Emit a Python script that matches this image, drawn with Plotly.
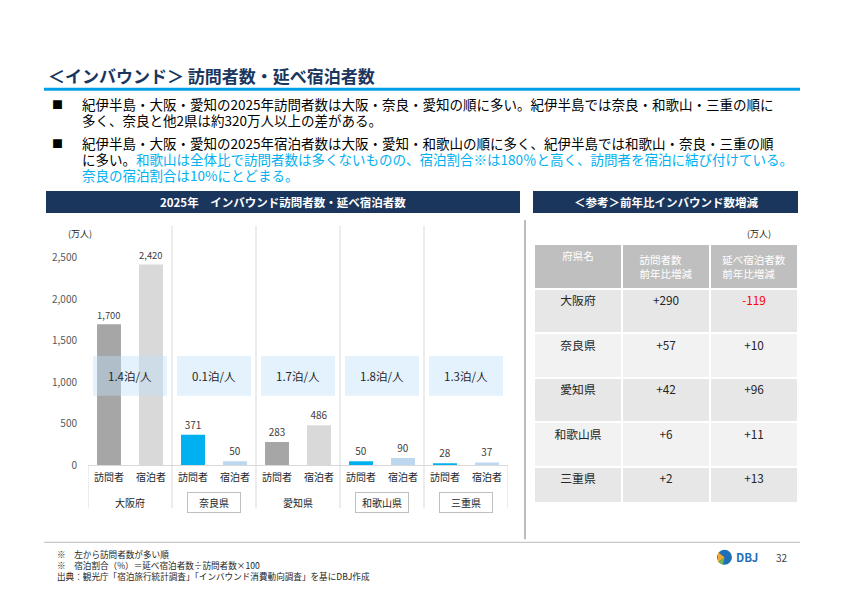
import plotly.graph_objects as go

# chart data (万人)
prefectures = ['大阪府', '奈良県', '愛知県', '和歌山県', '三重県']
kii = [False, True, False, True, True]
visitors = [1700, 371, 283, 50, 28]
stays = [2420, 50, 486, 90, 37]
nights = ['1.4泊/人', '0.1泊/人', '1.7泊/人', '1.8泊/人', '1.3泊/人']
bar_labels = ['訪問者', '宿泊者']
y_ticks = [0, 500, 1000, 1500, 2000, 2500]

# reference table (前年比増減, 万人)
table_prefs = ['大阪府', '奈良県', '愛知県', '和歌山県', '三重県']
visitors_diff = ['+290', '+57', '+42', '+6', '+2']
stays_diff = ['-119', '+10', '+96', '+11', '+13']
table_header = ['府県名', '訪問者数<br>前年比増減', '延べ宿泊者数<br>前年比増減']

W, H = 842, 596
FONT = 'Noto Sans CJK JP'
NAVY = '#1B365D'
CYAN = '#00B0F0'


def px(x):
    return x / W


def py(y):
    # the photographed page comes out slightly squeezed vertically,
    # so undo that when turning a target pixel row into paper coords
    y_page = (y - 6.5) / 0.977
    return (H - y_page) / H


fig = go.Figure()

# bars
n = len(prefectures)
x_vis = [2 * i for i in range(n)]
x_stay = [2 * i + 1 for i in range(n)]
fig.add_trace(go.Bar(
    x=x_vis, y=visitors, width=0.57,
    marker_color=[CYAN if k else '#A6A6A6' for k in kii],
    marker_line_width=0,
    texttemplate='%{y:,}', textposition='outside',
    textfont=dict(size=10, color='#404040', family=FONT),
    cliponaxis=False, showlegend=False, hoverinfo='skip'
))
fig.add_trace(go.Bar(
    x=x_stay, y=stays, width=0.57,
    marker_color=['#BDD7EE' if k else '#D9D9D9' for k in kii],
    marker_line_width=0,
    texttemplate='%{y:,}', textposition='outside',
    textfont=dict(size=10, color='#404040', family=FONT),
    cliponaxis=False, showlegend=False, hoverinfo='skip'
))

# table
row_fill = ['#E7E7E7' if i % 2 == 0 else '#F2F2F2' for i in range(len(table_prefs))]
fig.add_trace(go.Table(
    domain=dict(x=[px(534), px(798)], y=[py(502), py(243)]),
    columnwidth=[1, 1, 1],
    header=dict(
        values=table_header, fill_color='#BFBFBF',
        line=dict(color='white', width=2), height=42,
        align='center', font=dict(family=FONT, size=10.5, color='white')
    ),
    cells=dict(
        values=[table_prefs, visitors_diff, stays_diff],
        fill_color=[row_fill] * 3,
        line=dict(color='white', width=2), height=44.5,
        align='center',
        font=dict(family=FONT, size=11.8, color=[
            ['#262626'] * 5, ['#262626'] * 5,
            ['#FF0000' if v.startswith('-') else '#262626' for v in stays_diff]
        ])
    )
))

shapes = []
annotations = []

# title + rule
annotations.append(dict(
    x=px(46), y=py(74), xref='paper', yref='paper', xanchor='left', yanchor='middle',
    text='<b>＜インバウンド＞ 訪問者数・延べ宿泊者数</b>', showarrow=False,
    font=dict(family=FONT, size=17, color=NAVY)
))
shapes.append(dict(type='line', xref='paper', yref='paper',
                   x0=px(44), x1=px(800), y0=py(88), y1=py(88),
                   line=dict(color='#00A0E9', width=3)))

# bullet lines (y, starts a bullet, text)
blue = '<span style="color:#00B0F0">{}</span>'
lines = [
    (103, True, '紀伊半島・大阪・愛知の2025年訪問者数は大阪・奈良・愛知の順に多い。紀伊半島では奈良・和歌山・三重の順に'),
    (119, False, '多く、奈良と他2県は約320万人以上の差がある。'),
    (142, True, '紀伊半島・大阪・愛知の2025年宿泊者数は大阪・愛知・和歌山の順に多く、紀伊半島では和歌山・奈良・三重の順'),
    (158, False, 'に多い。' + blue.format('和歌山は全体比で訪問者数は多くないものの、宿泊割合※は180％と高く、訪問者を宿泊に結び付けている。')),
    (174, False, blue.format('奈良の宿泊割合は10%にとどまる。')),
]
for y, bullet, txt in lines:
    annotations.append(dict(
        x=px(80), y=py(y), xref='paper', yref='paper', xanchor='left', yanchor='middle',
        text=txt, showarrow=False, font=dict(family=FONT, size=13.5, color='#000000')
    ))
    if bullet:
        annotations.append(dict(
            x=px(58), y=py(y), xref='paper', yref='paper', xanchor='center', yanchor='middle',
            text='■', showarrow=False, font=dict(family=FONT, size=11, color='#000000')
        ))

# section headers
for x0, x1, label in [(46, 520, '2025年　インバウンド訪問者数・延べ宿泊者数'),
                      (533, 798, '＜参考＞前年比インバウンド数増減')]:
    shapes.append(dict(type='rect', xref='paper', yref='paper',
                       x0=px(x0), x1=px(x1), y0=py(212), y1=py(190),
                       fillcolor=NAVY, line_width=0, layer='below'))
    annotations.append(dict(
        x=px((x0 + x1) / 2), y=py(201), xref='paper', yref='paper',
        xanchor='center', yanchor='middle', text='<b>' + label + '</b>', showarrow=False,
        font=dict(family=FONT, size=11.5, color='white')
    ))

# units
for ux in [66, 773]:
    annotations.append(dict(x=px(ux), y=py(233), xref='paper', yref='paper',
                            yanchor='middle', text='(万人)', showarrow=False,
                            font=dict(family=FONT, size=9, color='#262626')))

# group dividers
for i in range(n - 1):
    shapes.append(dict(type='line', xref='x', yref='paper',
                       x0=2 * i + 1.5, x1=2 * i + 1.5, y0=py(508), y1=py(225),
                       line=dict(color='#D9D9D9', width=1)))
for xe in [-0.5, 2 * n - 0.5]:
    shapes.append(dict(type='line', xref='x', yref='paper',
                       x0=xe, x1=xe, y0=py(508), y1=py(465),
                       line=dict(color='#D9D9D9', width=1)))

# nights per person boxes
for i, label in enumerate(nights):
    shapes.append(dict(type='rect', xref='x', yref='y',
                       x0=2 * i - 0.38, x1=2 * i + 1.38, y0=840, y1=1320,
                       fillcolor='rgba(188,224,250,0.42)', line_width=0))
    annotations.append(dict(x=2 * i + 0.5, y=1080, xref='x', yref='y',
                            text=label, showarrow=False,
                            font=dict(family=FONT, size=11.5, color='#262626')))

# prefecture labels
for i, (name, k) in enumerate(zip(prefectures, kii)):
    ann = dict(x=2 * i + 0.5, y=py(502), xref='x', yref='paper',
               text=name, showarrow=False, yanchor='middle',
               font=dict(family=FONT, size=10, color='#262626'))
    if k:
        ann.update(bordercolor='#BFBFBF', borderwidth=1, borderpad=2, width=48)
    annotations.append(ann)

# right panel border, footer rule
shapes.append(dict(type='line', xref='paper', yref='paper',
                   x0=px(525), x1=px(525), y0=py(539), y1=py(219),
                   line=dict(color='#A6A6A6', width=1.5)))
shapes.append(dict(type='line', xref='paper', yref='paper',
                   x0=px(44), x1=px(800), y0=py(542), y1=py(542),
                   line=dict(color='#C8C8C8', width=1.2)))

# footnotes
notes = [
    '※　左から訪問者数が多い順',
    '※　宿泊割合（%）＝延べ宿泊者数÷訪問者数×100',
    '出典：観光庁「宿泊旅行統計調査」「インバウンド消費動向調査」を基にDBJ作成',
]
annotations.append(dict(x=px(55), y=py(565), xref='paper', yref='paper',
                        xanchor='left', yanchor='middle', align='left',
                        text='<br>'.join(notes), showarrow=False,
                        font=dict(family=FONT, size=8.6, color='#262626')))

# logo + page number
shapes.append(dict(type='circle', xref='paper', yref='paper',
                   x0=px(717), x1=px(732), y0=py(564.5), y1=py(549.5),
                   fillcolor='#1F6FB8', line_width=0))
shapes.append(dict(type='path', xref='paper', yref='paper',
                   path='M {} {} L {} {} L {} {} Z'.format(px(724.5), py(557), px(718), py(552), px(718), py(562)),
                   fillcolor='#F0A830', line_width=0))
shapes.append(dict(type='path', xref='paper', yref='paper',
                   path='M {} {} L {} {} L {} {} Z'.format(px(724.5), py(557), px(718), py(562), px(723), py(564)),
                   fillcolor='#7AB648', line_width=0))
annotations.append(dict(x=px(734), y=py(557), xref='paper', yref='paper',
                        xanchor='left', yanchor='middle', text='<b>DBJ</b>', showarrow=False,
                        font=dict(family=FONT, size=11.5, color='#1F6FB8')))
annotations.append(dict(x=px(782), y=py(557), xref='paper', yref='paper',
                        xanchor='center', yanchor='middle', text='32', showarrow=False,
                        font=dict(family=FONT, size=10, color='#404040')))

fig.update_layout(
    width=W, height=H,
    margin=dict(l=0, r=0, t=0, b=0),
    paper_bgcolor='white', plot_bgcolor='white',
    barmode='overlay',
    font=dict(family=FONT),
    xaxis=dict(
        domain=[px(88), px(508)], range=[-0.5, 2 * n - 0.5],
        tickvals=list(range(2 * n)), ticktext=bar_labels * n,
        tickfont=dict(size=10, color='#262626'),
        showline=True, linecolor='#D9D9D9', linewidth=1,
        showgrid=False, zeroline=False, ticks='', ticklabelstandoff=3
    ),
    yaxis=dict(
        domain=[py(465), py(257)], range=[0, 2500],
        tickvals=y_ticks, tickformat=',',
        tickfont=dict(size=10, color='#595959'),
        showgrid=False, zeroline=False, showline=False,
        ticks='', ticklabelstandoff=10
    ),
    shapes=shapes,
    annotations=annotations,
)

# drop the page's default body margin and any scrollbars
fig.write_html(
    'out.html',
    config={'displayModeBar': False},
    post_script=("document.body.style.margin='0';"
                 "document.body.style.overflow='hidden';"
                 "document.documentElement.style.overflow='hidden';")
)
